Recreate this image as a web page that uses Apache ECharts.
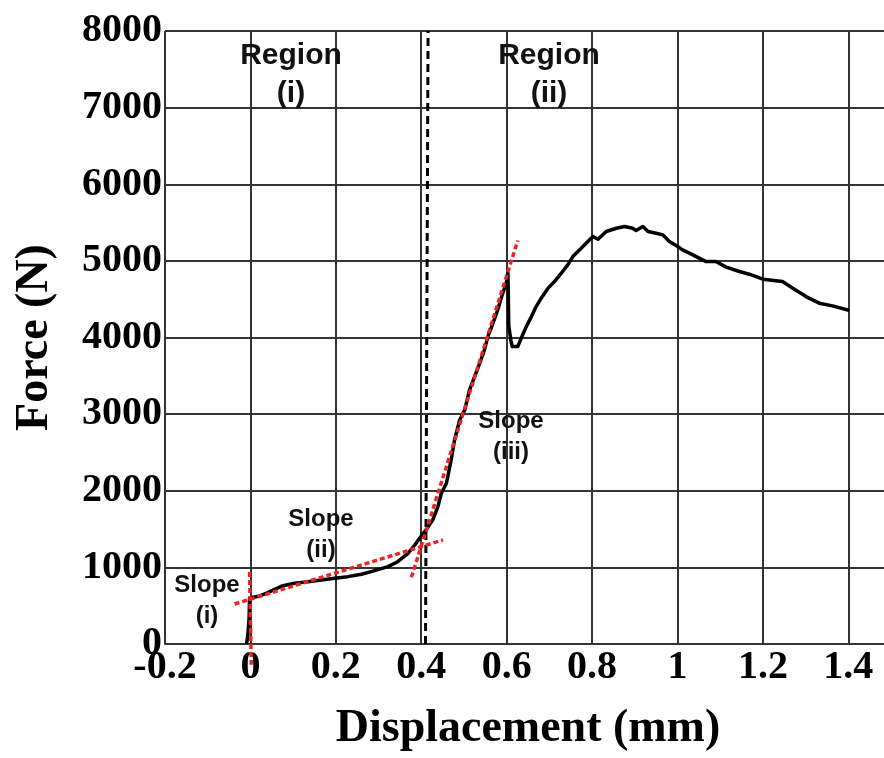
<!DOCTYPE html>
<html>
<head>
<meta charset="utf-8">
<title>Force vs Displacement</title>
<script src="https://cdn.jsdelivr.net/npm/echarts@6/dist/echarts.min.js"></script>
<style>
  html, body { margin: 0; padding: 0; background: #fff; }
  #chart { width: 884px; height: 758px; }
</style>
</head>
<body>
<div id="chart"></div>
<script>
// Measured load-displacement response (mm, N)
const displacement = [
  -0.009, -0.006, -0.003, -0.002, 0.006, 0.022, 0.041, 0.057, 0.076, 0.104,
  0.135, 0.166, 0.197, 0.228, 0.260, 0.291, 0.322, 0.345, 0.369, 0.385,
  0.396, 0.408, 0.427, 0.439, 0.447, 0.459, 0.470, 0.478, 0.490, 0.502,
  0.513, 0.525, 0.537, 0.548, 0.556, 0.568, 0.579, 0.587, 0.599, 0.603,
  0.605, 0.610, 0.613, 0.626, 0.634, 0.646, 0.658, 0.669, 0.681, 0.697,
  0.712, 0.728, 0.743, 0.755, 0.771, 0.786, 0.802, 0.814, 0.833, 0.857,
  0.876, 0.895, 0.903, 0.919, 0.931, 0.950, 0.966, 0.981, 0.997, 1.012,
  1.036, 1.067, 1.090, 1.114, 1.145, 1.168, 1.200, 1.246, 1.270, 1.301,
  1.332, 1.363, 1.403
];
const force = [
  0, 117, 350, 597, 610, 627, 670, 714, 761, 792,
  813, 836, 858, 879, 910, 957, 1009, 1074, 1184, 1292,
  1380, 1466, 1619, 1793, 1967, 2098, 2402, 2663, 2924, 3055,
  3316, 3490, 3664, 3838, 4012, 4187, 4360, 4513, 4709, 4839,
  4150, 3960, 3881, 3881, 3990, 4142, 4273, 4404, 4513, 4644,
  4730, 4839, 4948, 5056, 5144, 5231, 5318, 5283, 5383, 5426,
  5448, 5426, 5396, 5448, 5383, 5361, 5339, 5252, 5200, 5144,
  5078, 4991, 4991, 4918, 4861, 4826, 4761, 4730, 4644, 4534,
  4448, 4413, 4352
];

// Fitted stiffness lines (start/end)
const slopeIX = [-0.002, 0.002];
const slopeIF = [940, -270];
const slopeIIX = [-0.037, 0.451];
const slopeIIF = [522, 1358];
const slopeIIIX = [0.377, 0.626];
const slopeIIIF = [870, 5265];

// Boundary between region (i) and region (ii)
const boundaryX = [0.410, 0.416];
const boundaryF = [0, 8000];

// Axis ranges and steps
const xRange = [-0.2, 1.5];
const xStep = 0.2;
const yRange = [0, 8000];
const yStep = 1000;

const pairs = (xs, ys) => xs.map((x, i) => [x, ys[i]]);

const serif = '"Liberation Serif", "Times New Roman", serif';
const sans = '"Liberation Sans", Arial, sans-serif';
const gridColor = '#333';
const fitStyle = { color: '#ee2424', width: 3.5, type: [5, 3] };

const chart = echarts.init(document.getElementById('chart'), null, { renderer: 'canvas' });

chart.setOption({
  animation: false,
  backgroundColor: '#fff',
  grid: { left: 165, top: 31, width: 726, height: 613, containLabel: false, outerBoundsMode: 'none' },
  xAxis: {
    type: 'value',
    min: xRange[0], max: xRange[1], interval: xStep,
    name: 'Displacement (mm)',
    nameLocation: 'middle',
    nameGap: 62,
    nameTextStyle: { fontFamily: serif, fontWeight: 'bold', fontSize: 46, color: '#000' },
    axisLine: { show: true, onZero: false, lineStyle: { color: gridColor, width: 2 } },
    axisTick: { show: false },
    axisLabel: {
      fontFamily: serif, fontWeight: 'bold', fontSize: 40, color: '#000',
      margin: 4, showMaxLabel: false
    },
    splitLine: { show: true, lineStyle: { color: gridColor, width: 2 } }
  },
  yAxis: {
    type: 'value',
    min: yRange[0], max: yRange[1], interval: yStep,
    name: 'Force (N)',
    nameLocation: 'middle',
    nameGap: 107,
    nameTextStyle: { fontFamily: serif, fontWeight: 'bold', fontSize: 46, color: '#000' },
    axisLine: { show: true, lineStyle: { color: gridColor, width: 2 } },
    axisTick: { show: false },
    axisLabel: {
      fontFamily: serif, fontWeight: 'bold', fontSize: 40, color: '#000',
      margin: 3, padding: [0, 0, 14, 0],
      formatter: (v) => String(v)
    },
    splitLine: { show: true, lineStyle: { color: gridColor, width: 2 } }
  },
  series: [
    {
      name: 'boundary',
      type: 'line',
      data: pairs(boundaryX, boundaryF),
      showSymbol: false,
      lineStyle: { color: '#000', width: 3, type: [8, 5] },
      z: 3
    },
    {
      name: 'response',
      type: 'line',
      data: pairs(displacement, force),
      showSymbol: false,
      lineStyle: { color: '#000', width: 3.5, join: 'round' },
      z: 4
    },
    {
      name: 'slope i',
      type: 'line',
      data: pairs(slopeIX, slopeIF),
      showSymbol: false,
      clip: false,
      lineStyle: fitStyle,
      z: 5
    },
    {
      name: 'slope ii',
      type: 'line',
      data: pairs(slopeIIX, slopeIIF),
      showSymbol: false,
      clip: false,
      lineStyle: fitStyle,
      z: 5
    },
    {
      name: 'slope iii',
      type: 'line',
      data: pairs(slopeIIIX, slopeIIIF),
      showSymbol: false,
      clip: false,
      lineStyle: fitStyle,
      z: 5
    }
  ],
  graphic: [
    { type: 'text', x: 291, y: 75, z: 10,
      style: { text: 'Region\n(i)', font: 'bold 30px ' + sans, fill: '#111', align: 'center', verticalAlign: 'middle', lineHeight: 38 } },
    { type: 'text', x: 549, y: 75, z: 10,
      style: { text: 'Region\n(ii)', font: 'bold 30px ' + sans, fill: '#111', align: 'center', verticalAlign: 'middle', lineHeight: 38 } },
    { type: 'text', x: 207, y: 601, z: 10,
      style: { text: 'Slope\n(i)', font: 'bold 24px ' + sans, fill: '#111', align: 'center', verticalAlign: 'middle', lineHeight: 31 } },
    { type: 'text', x: 321, y: 535, z: 10,
      style: { text: 'Slope\n(ii)', font: 'bold 24px ' + sans, fill: '#111', align: 'center', verticalAlign: 'middle', lineHeight: 31 } },
    { type: 'text', x: 511, y: 437, z: 10,
      style: { text: 'Slope\n(iii)', font: 'bold 24px ' + sans, fill: '#111', align: 'center', verticalAlign: 'middle', lineHeight: 31 } }
  ]
});
</script>
</body>
</html>
